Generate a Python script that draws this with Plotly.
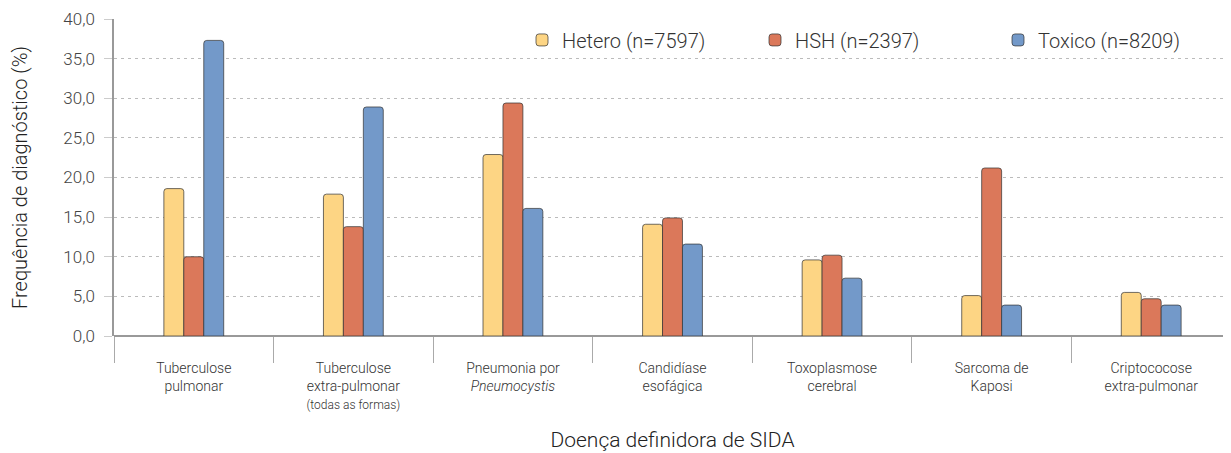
import plotly.graph_objects as go

# ------------------------------------------------------------------
# Data

categories = [
    "Tuberculose<br>pulmonar",
    "Tuberculose<br>extra-pulmonar<br><span style='font-size:12px'>(todas as formas)</span>",
    "Pneumonia por<br><i>Pneumocystis</i>",
    "Candidíase<br>esofágica",
    "Toxoplasmose<br>cerebral",
    "Sarcoma de<br>Kaposi",
    "Criptococose<br>extra-pulmonar",
]

hetero = [18.6, 17.9, 22.9, 14.1, 9.6, 5.1, 5.5]
hsh = [10.0, 13.8, 29.4, 14.9, 10.2, 21.2, 4.7]
toxico = [37.3, 28.9, 16.1, 11.6, 7.3, 3.9, 3.9]

series_names = ["Hetero (n=7597)", "HSH (n=2397)", "Toxico (n=8209)"]
y_ticks = [0, 5, 10, 15, 20, 25, 30, 35, 40]

# ------------------------------------------------------------------
# Plot

colors = ["#FDD584", "#DB785A", "#7399C9"]
legends = ["legend", "legend2", "legend3"]

fig = go.Figure()
for name, vals, col, lg in zip(series_names, [hetero, hsh, toxico], colors, legends):
    fig.add_trace(go.Bar(
        x=categories, y=vals, name=name, legend=lg, showlegend=True,
        marker=dict(color=col, line=dict(color="rgba(50,50,50,0.7)", width=1),
                    cornerradius=3),
    ))

# page has an 8px body margin, so the figure is a bit smaller than the window
W, H = 1223, 445
plot_w = W - 106

font_family = "Roboto, Liberation Sans, Arial, sans-serif"
legend_style = dict(orientation="h", yanchor="middle", y=0.934, xanchor="left",
                    font=dict(size=20, color="#333", family=font_family, weight=300),
                    bgcolor="rgba(0,0,0,0)", visible=True)

fig.update_layout(
    width=W, height=H,
    margin=dict(l=106, r=0, t=11, b=117),
    plot_bgcolor="white", paper_bgcolor="white",
    barmode="group", bargap=0.625, bargroupgap=0,
    separators=",.",
    showlegend=True,
    font=dict(family=font_family, color="#333", weight=300),
    legend=dict(legend_style, x=(522 - 114) / plot_w),
    legend2=dict(legend_style, x=(755 - 114) / plot_w),
    legend3=dict(legend_style, x=(998 - 114) / plot_w),
    xaxis=dict(
        range=[-0.5, 6.5], automargin=False,
        tickson="boundaries", ticks="outside", ticklen=26, tickcolor="#aaa", tickwidth=1,
        ticklabelstandoff=22,
        showline=False, showgrid=False,
        tickfont=dict(size=14, color="#333", weight=300),
        title=dict(text="Doença definidora de SIDA", standoff=20,
                   font=dict(size=21, color="#222", weight=300)),
    ),
    yaxis=dict(
        range=[0, 40], tickvals=y_ticks, tickformat=".1f", automargin=False,
        showgrid=True, gridcolor="#bbb", griddash="3px,4px", gridwidth=1,
        zeroline=True, zerolinecolor="#999", zerolinewidth=1.5,
        showline=True, linecolor="#999", linewidth=1.5,
        ticks="outside", ticklen=8, tickcolor="#ccc", ticklabelstandoff=6,
        tickfont=dict(size=17, color="#444", weight=300),
        title=dict(text="Frequência de diagnóstico (%)", standoff=40,
                   font=dict(size=20, color="#222", weight=300)),
    ),
)

fig.write_html("out.html")
